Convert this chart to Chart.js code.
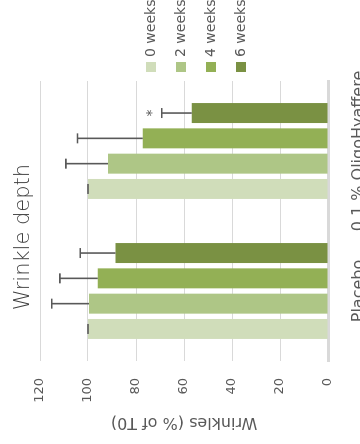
<!DOCTYPE html>
<html>
<head>
<meta charset="utf-8">
<title>Wrinkle depth</title>
<script src="https://cdn.jsdelivr.net/npm/chart.js@4.4.1/dist/chart.umd.min.js"></script>
<style>
  html, body { margin: 0; padding: 0; background: #fff; }
  body { width: 360px; height: 444px; overflow: hidden; position: relative; }
  /* the chart is drawn landscape, then turned a quarter turn to the left */
  #wrap { position: absolute; left: 0; top: 0; width: 444px; height: 360px;
          transform-origin: 0 0; transform: translate(0, 444px) rotate(-90deg); }
</style>
</head>
<body>
<div id="wrap"><canvas id="wrinkles" width="444" height="360"></canvas></div>
<script>
// Data
var categories = ["Placebo", "0.1 % OligoHyaffere"];
var weekLabels = ["0 weeks", "2 weeks", "4 weeks", "6 weeks"];
var week0 = [100, 100];
var week2 = [99.6, 91.7];
var week4 = [95.9, 77.2];
var week6 = [88.5, 56.8];
var err0 = [0, 0];
var err2 = [15.5, 17.5];
var err4 = [15.8, 27.2];
var err6 = [14.7, 12.5];
var sig6 = ["", "*"];
var yTicks = [0, 20, 40, 60, 80, 100, 120];

var chartTitle = "Wrinkle depth";
var axisTitle = "Wrinkles (% of T0)";
var textColor = "#595959";

Chart.defaults.font.family = "'DejaVu Sans'";
Chart.defaults.color = textColor;

// one-sided error bars (+ significance mark) on top of each bar
var errorBars = {
  id: 'errorBars',
  afterDatasetsDraw: function(chart) {
    var ctx = chart.ctx, y = chart.scales.y;
    ctx.save();
    ctx.strokeStyle = textColor;
    ctx.fillStyle = textColor;
    ctx.lineWidth = 1.6;
    ctx.font = "14px 'DejaVu Sans'";
    ctx.textAlign = 'center';
    ctx.textBaseline = 'middle';
    chart.data.datasets.forEach(function(ds, i) {
      chart.getDatasetMeta(i).data.forEach(function(bar, j) {
        var top = y.getPixelForValue(ds.data[j] + ds.errors[j]);
        ctx.beginPath();
        ctx.moveTo(bar.x, bar.y);
        ctx.lineTo(bar.x, top);
        ctx.moveTo(bar.x - 5, top);
        ctx.lineTo(bar.x + 5, top);
        ctx.stroke();
        if (ds.marks && ds.marks[j]) {
          ctx.fillText(ds.marks[j], bar.x, top - 9);
        }
      });
    });
    ctx.restore();
  }
};

// title and the legend column on the right
var headings = {
  id: 'headings',
  afterDraw: function(chart) {
    var ctx = chart.ctx, area = chart.chartArea;
    ctx.save();
    ctx.fillStyle = '#404040';
    ctx.font = "200 21px 'DejaVu Sans'";
    ctx.textAlign = 'center';
    ctx.textBaseline = 'alphabetic';
    ctx.fillText(chartTitle, 207, 29);

    ctx.font = "14px 'DejaVu Sans'";
    ctx.textAlign = 'left';
    ctx.textBaseline = 'middle';
    chart.data.datasets.forEach(function(ds, i) {
      var top = area.top + 106 + i * 30;
      ctx.fillStyle = ds.backgroundColor;
      ctx.fillRect(area.right + 9, top, 10, 10);
      ctx.fillStyle = textColor;
      ctx.fillText(ds.label, area.right + 24, top + 5);
    });
    ctx.restore();
  }
};

var wrinkleChart = new Chart(document.getElementById('wrinkles'), {
  type: 'bar',
  data: {
    labels: categories,
    datasets: [
      { label: weekLabels[0], data: week0, errors: err0, backgroundColor: '#d0ddba' },
      { label: weekLabels[1], data: week2, errors: err2, backgroundColor: '#aec686' },
      { label: weekLabels[2], data: week4, errors: err4, backgroundColor: '#93b055' },
      { label: weekLabels[3], data: week6, errors: err6, marks: sig6, backgroundColor: '#7a9143' }
    ]
  },
  options: {
    responsive: false,
    animation: false,
    devicePixelRatio: 1,
    categoryPercentage: 0.723,
    barPercentage: 0.79,
    layout: { padding: { top: 40, right: 81, left: 0, bottom: 0 } },
    plugins: {
      legend: { display: false },
      title: { display: false },
      tooltip: { enabled: false }
    },
    scales: {
      x: {
        grid: { display: false },
        border: { display: true, color: '#d9d9d9', width: 3 },
        ticks: { font: { size: 16 }, padding: 13, maxRotation: 0, minRotation: 0, autoSkip: false },
        afterFit: function(s) { s.height = 32; }
      },
      y: {
        min: 0,
        max: 120,
        afterBuildTicks: function(s) { s.ticks = yTicks.map(function(v) { return { value: v }; }); },
        grid: { color: '#d9d9d9', lineWidth: 1, drawTicks: false },
        border: { display: false },
        ticks: { font: { size: 13 }, padding: 17 },
        title: { display: true, text: axisTitle, font: { size: 16 }, padding: { top: 12, bottom: 0 } },
        afterFit: function(s) { s.width = 83; }
      }
    }
  },
  plugins: [errorBars, headings]
});
</script>
</body>
</html>
